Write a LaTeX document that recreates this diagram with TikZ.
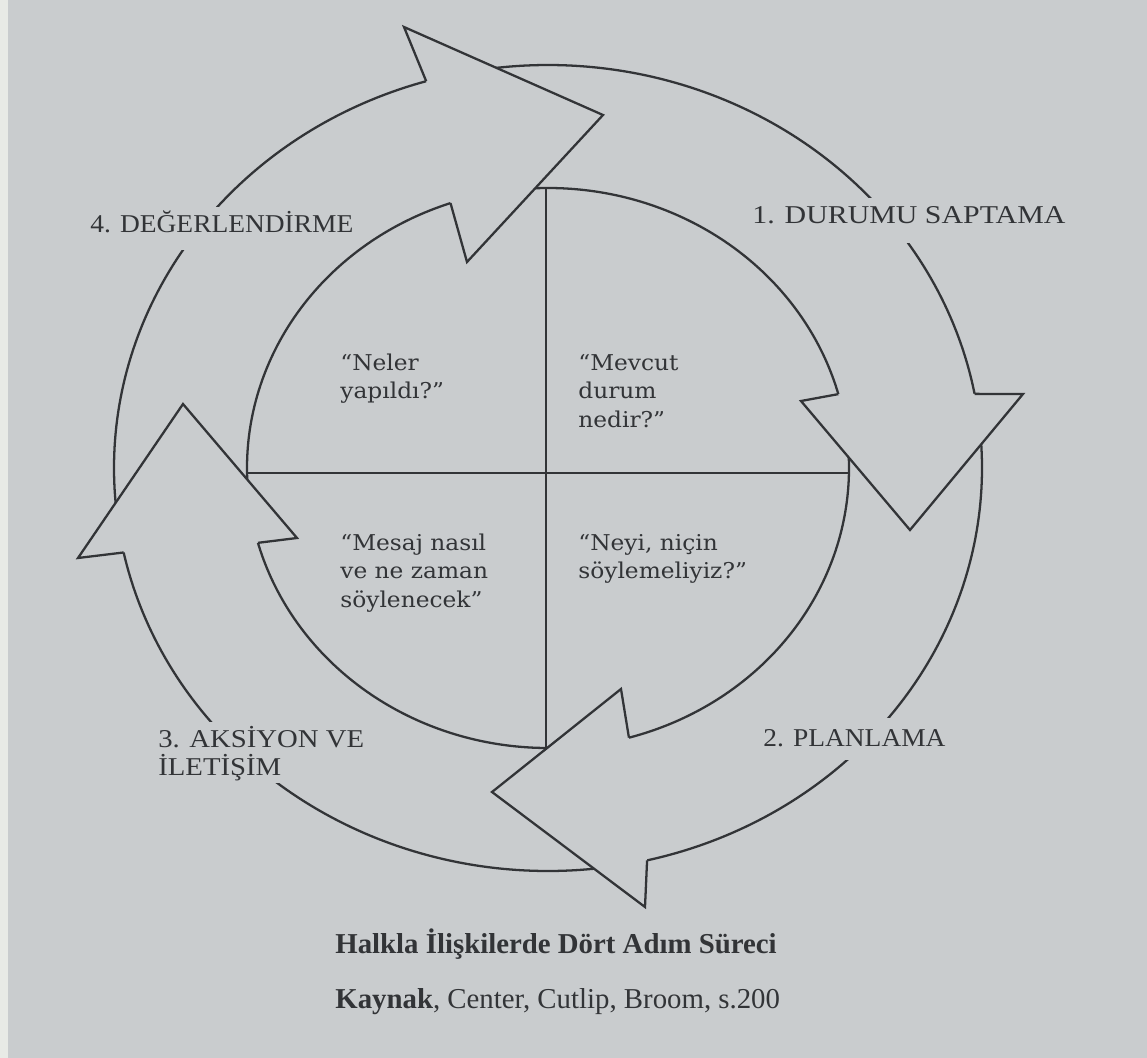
\documentclass[tikz,border=0pt]{standalone}
\usepackage{fontspec}
\setmainfont{Liberation Serif}
\newfontfamily\qfont[FakeStretch=1.07]{DejaVu Serif}
\newfontfamily\labA[FakeStretch=1.07]{Liberation Serif}
\newfontfamily\labB[FakeStretch=1.12]{Liberation Serif}
\newfontfamily\labC[FakeStretch=1.165]{Liberation Serif}
\usetikzlibrary{calc}
\definecolor{paper}{RGB}{201,204,206}
\definecolor{strip}{RGB}{232,234,230}
\definecolor{ink}{RGB}{50,52,55}
\tikzset{
  ring/.style={draw=ink, line width=1.3pt},
  headfill/.style={fill=paper},
  headline/.style={draw=ink, line width=1.3pt, line join=miter},
  labelmask/.style={fill=paper},
  steplabel/.style={font=\labA\fontsize{14.6}{17}\selectfont, text=ink,
     anchor=base west, inner sep=0pt},
  qtext/.style={font=\qfont\fontsize{12.4}{15}\selectfont, text=ink,
     anchor=base west, inner sep=0pt},
  captext/.style={font=\fontsize{16.4}{19}\selectfont, text=ink,
     anchor=base west, inner sep=0pt}
}
\begin{document}
\begin{tikzpicture}[x=0.02cm, y=-0.02cm]
\fill[paper] (0,0) rectangle (1147,1058);
\fill[strip] (0,0) rectangle (8,1058);
\useasboundingbox (0,0) rectangle (1147,1058);

\coordinate (C) at (548,468);
% outer and inner circles of the ring
\draw[ring] plot[domain=0:359, samples=360] ({548+434*cos(\x)},{468+403*sin(\x)}) -- cycle;
\draw[ring] plot[domain=0:359, samples=360] ({548+301*cos(\x)},{468+280*sin(\x)}) -- cycle;

% gaps in the outer circle behind the step labels
\fill[labelmask] (80,207) rectangle (300,250);
\fill[labelmask] (745,198) rectangle (1070,243);
\fill[labelmask] (755,718) rectangle (952,760);
\fill[labelmask] (150,722) rectangle (370,783);

% quadrant lines
\coordinate (vtop) at (546,188);
\coordinate (vbot) at (546,748);
\coordinate (hleft) at (247,473);
\coordinate (hright) at (849,473);
\draw[ring] (vtop) -- (vbot);
\draw[ring] (hleft) -- (hright);

% top head
\coordinate (ta) at ($(C)+(-108.9:301 and 280)$);
\coordinate (tb) at (467,262);
\coordinate (tc) at (603,115);
\coordinate (td) at (404,27);
\coordinate (te) at ($(C)+(-106.3:434 and 403)$);
\path[headfill] (ta) -- (tb) -- (tc) -- (td) -- (te) -- cycle;
\draw[headline] (ta) -- (tb) -- (tc) -- (td) -- (te);

% right head
\coordinate (ra) at ($(C)+(-15.3:301 and 280)$);
\coordinate (rb) at (801,401);
\coordinate (rc) at (910,530);
\coordinate (rd) at (1023,394);
\coordinate (re) at ($(C)+(-10.6:434 and 403)$);
\path[headfill] (ra) -- (rb) -- (rc) -- (rd) -- (re) -- cycle;
\draw[headline] (ra) -- (rb) -- (rc) -- (rd) -- (re);

% bottom head
\coordinate (ba) at ($(C)+(74.4:301 and 280)$);
\coordinate (bb) at (621,689);
\coordinate (bc) at (492,792);
\coordinate (bd) at (645,907);
\coordinate (be) at ($(C)+(76.8:434 and 403)$);
\path[headfill] (ba) -- (bb) -- (bc) -- (bd) -- (be) -- cycle;
\draw[headline] (ba) -- (bb) -- (bc) -- (bd) -- (be);

% left head
\coordinate (la) at ($(C)+(164.5:301 and 280)$);
\coordinate (lb) at (297,538);
\coordinate (lc) at (183,404);
\coordinate (ld) at (78,558);
\coordinate (le) at ($(C)+(167.9:434 and 403)$);
\path[headfill] (la) -- (lb) -- (lc) -- (ld) -- (le) -- cycle;
\draw[headline] (la) -- (lb) -- (lc) -- (ld) -- (le);

% step labels
\node[steplabel] (s4) at (90,232) {4. DEĞERLENDİRME};
\node[steplabel, font=\labC\fontsize{14.6}{17}\selectfont] (s1) at (752,223) {1. DURUMU SAPTAMA};
\node[steplabel] (s2) at (763,746) {2. PLANLAMA};
\node[steplabel, font=\labB\fontsize{14.6}{17}\selectfont] (s3a) at (158,747) {3. AKSİYON VE};
\node[steplabel, font=\labB\fontsize{14.6}{17}\selectfont] (s3b) at (158,775) {İLETİŞİM};

% quadrant texts
\node[qtext] (q4a) at (340,370) {“Neler};
\node[qtext] (q4b) at (340,398) {yapıldı?”};
\node[qtext] (q1a) at (578,370) {“Mevcut};
\node[qtext] (q1b) at (578,398) {durum};
\node[qtext] (q1c) at (578,427) {nedir?”};
\node[qtext] (q3a) at (340,550) {“Mesaj nasıl};
\node[qtext] (q3b) at (340,578) {ve ne zaman};
\node[qtext] (q3c) at (340,607) {söylenecek”};
\node[qtext] (q2a) at (578,550) {“Neyi, niçin};
\node[qtext] (q2b) at (578,578) {söylemeliyiz?”};

% caption
\node[captext] (cap1) at (335,953) {\textbf{Halkla İlişkilerde Dört Adım Süreci}};
\node[captext] (cap2) at (335,1008) {\textbf{Kaynak}, Center, Cutlip, Broom, s.200};
\end{tikzpicture}
\end{document}
